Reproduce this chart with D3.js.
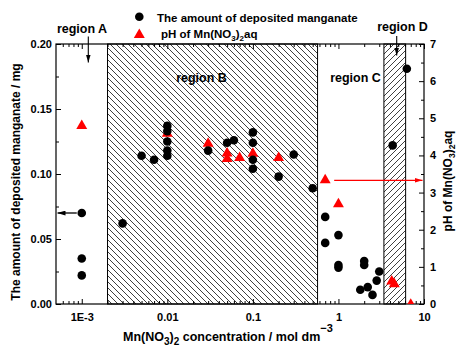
<!DOCTYPE html>
<html>
<head>
<meta charset="utf-8">
<script src="https://cdn.jsdelivr.net/npm/d3@7"></script>
<style>
  body { margin: 0; background: #fff; }
  text { font-family: "Liberation Sans", Arial, Helvetica, sans-serif; font-weight: bold; }
</style>
</head>
<body>
<svg width="457" height="346"></svg>
<script>
// deposited manganate (mg) vs Mn(NO3)2 concentration (mol dm-3)
var mnConc   = [0.001, 0.001, 0.001, 0.003, 0.005, 0.007, 0.01, 0.01, 0.01, 0.01, 0.01,
                0.03, 0.05, 0.06, 0.1, 0.1, 0.1, 0.1, 0.2, 0.3, 0.5,
                0.7, 0.7, 1, 1, 1, 1.8, 2, 2, 2.2, 2.5, 2.8, 3, 4.3, 6.3];
var mnAmount = [0.070, 0.035, 0.022, 0.062, 0.114, 0.111, 0.137, 0.133, 0.125, 0.118, 0.114,
                0.118, 0.124, 0.126, 0.132, 0.124, 0.111, 0.104, 0.098, 0.115, 0.089,
                0.067, 0.047, 0.053, 0.030, 0.028, 0.011, 0.033, 0.030, 0.013, 0.007, 0.018, 0.025, 0.122, 0.181];

// pH of the Mn(NO3)2 solution
var phConc  = [0.001, 0.01, 0.03, 0.05, 0.05, 0.07, 0.1, 0.2, 0.7, 1, 4.2, 4.5, 7];
var phValue = [4.84, 4.63, 4.36, 4.10, 3.95, 3.98, 4.09, 3.98, 3.38, 2.73, 0.65, 0.58, 0.03];

// hatched concentration ranges
var regionB = [0.002, 0.57];
var regionD = [3.4, 6.1];

var xTicks = [0.001, 0.01, 0.1, 1, 10];
var xTickLabels = ["1E-3", "0.01", "0.1", "1", "10"];
var yTicks = [0, 0.05, 0.10, 0.15, 0.20];
var phTicks = [0, 1, 2, 3, 4, 5, 6, 7];

var svg = d3.select("svg");
var pL = 56, pR = 424, pT = 44, pB = 304;

var x = d3.scaleLog().domain([5e-4, 10]).range([pL, pR]);
var y = d3.scaleLinear().domain([0, 0.2]).range([pB, pT]);
var yPh = d3.scaleLinear().domain([0, 7]).range([pB, pT]);

var defs = svg.append("defs");
defs.append("pattern")
    .attr("id", "hatchB")
    .attr("patternUnits", "userSpaceOnUse")
    .attr("width", 6).attr("height", 6)
  .append("path")
    .attr("d", "M-1,-1L7,7M-1,5L1,7M5,-1L7,1")
    .attr("stroke", "#000").attr("stroke-width", 0.75);
defs.append("pattern")
    .attr("id", "hatchD")
    .attr("patternUnits", "userSpaceOnUse")
    .attr("width", 6).attr("height", 6)
  .append("path")
    .attr("d", "M-1,7L7,-1M-1,1L1,-1M5,7L7,5")
    .attr("stroke", "#000").attr("stroke-width", 0.75);
defs.append("clipPath").attr("id", "plotClip")
  .append("rect")
    .attr("x", pL).attr("y", pT)
    .attr("width", pR - pL).attr("height", pB - pT);

function arrowHead(id, col) {
  defs.append("marker")
      .attr("id", id)
      .attr("viewBox", "0 0 10 6")
      .attr("refX", 10).attr("refY", 3)
      .attr("markerWidth", 8).attr("markerHeight", 5)
      .attr("markerUnits", "userSpaceOnUse")
      .attr("orient", "auto")
    .append("path")
      .attr("d", "M0,0L10,3L0,6Z")
      .attr("fill", col);
}
arrowHead("ahBlack", "#000");
arrowHead("ahRed", "#ff0000");

// hatched regions
svg.append("g")
    .selectAll("rect")
    .data([[regionB, "url(#hatchB)"], [regionD, "url(#hatchD)"]])
    .enter().append("rect")
    .attr("x", d => x(d[0][0]))
    .attr("y", pT)
    .attr("width", d => x(d[0][1]) - x(d[0][0]))
    .attr("height", pB - pT)
    .attr("fill", d => d[1])
    .attr("stroke", "#000")
    .attr("stroke-width", 1);

// frame
svg.append("rect")
    .attr("x", pL).attr("y", pT)
    .attr("width", pR - pL).attr("height", pB - pT)
    .attr("fill", "none").attr("stroke", "#000").attr("stroke-width", 1.2);

// axes (ticks inside)
var xMinor = [];
for (var e = -4; e < 1; e++) {
  for (var m = 2; m <= 9; m++) {
    var v = m * Math.pow(10, e);
    if (v > 5e-4 && v < 10) xMinor.push(v);
  }
}

svg.append("g")
    .attr("transform", "translate(0," + pB + ")")
    .call(d3.axisBottom(x).tickValues(xTicks).tickFormat((d, i) => xTickLabels[i])
      .tickSizeInner(-5).tickSizeOuter(0).tickPadding(9));
svg.append("g")
    .attr("transform", "translate(0," + pB + ")")
    .call(d3.axisBottom(x).tickValues(xMinor).tickFormat("").tickSizeInner(-3).tickSizeOuter(0));
svg.append("g")
    .attr("transform", "translate(0," + pT + ")")
    .call(d3.axisTop(x).tickValues(xTicks).tickFormat("").tickSizeInner(-5).tickSizeOuter(0));
svg.append("g")
    .attr("transform", "translate(0," + pT + ")")
    .call(d3.axisTop(x).tickValues(xMinor).tickFormat("").tickSizeInner(-3).tickSizeOuter(0));

svg.append("g")
    .attr("transform", "translate(" + pL + ",0)")
    .call(d3.axisLeft(y).tickValues(yTicks).tickFormat(d3.format(".2f"))
      .tickSizeInner(-5).tickSizeOuter(0).tickPadding(4));
svg.append("g")
    .attr("transform", "translate(" + pL + ",0)")
    .call(d3.axisLeft(y).tickValues([0.025, 0.075, 0.125, 0.175]).tickFormat("")
      .tickSizeInner(-3).tickSizeOuter(0));

svg.append("g")
    .attr("transform", "translate(" + pR + ",0)")
    .call(d3.axisRight(yPh).tickValues(phTicks).tickFormat(d3.format("d"))
      .tickSizeInner(-5).tickSizeOuter(0).tickPadding(6));
svg.append("g")
    .attr("transform", "translate(" + pR + ",0)")
    .call(d3.axisRight(yPh).tickValues([0.5, 1.5, 2.5, 3.5, 4.5, 5.5, 6.5]).tickFormat("")
      .tickSizeInner(-3).tickSizeOuter(0));

svg.selectAll(".domain").remove();
svg.selectAll(".tick line").attr("stroke", "#000").attr("stroke-width", 1);
svg.selectAll(".tick text")
    .attr("fill", "#000")
    .style("font-size", "11px")
    .style("font-family", "'Liberation Sans', Arial, sans-serif")
    .style("font-weight", "bold");

// markers
var tri = {
  draw: function (p, s) {
    var w = Math.sqrt(s * 4 / Math.sqrt(3)), h = w * Math.sqrt(3) / 2;
    p.moveTo(0, -h / 2); p.lineTo(w / 2, h / 2); p.lineTo(-w / 2, h / 2); p.closePath();
  }
};

svg.append("g")
    .attr("clip-path", "url(#plotClip)")
    .selectAll("path")
    .data(d3.range(phConc.length))
    .enter().append("path")
    .attr("transform", i => "translate(" + x(phConc[i]) + "," + yPh(phValue[i]) + ")")
    .attr("d", d3.symbol().type(tri).size(52))
    .attr("fill", "#ff0000");

svg.append("g")
    .selectAll("circle")
    .data(d3.range(mnConc.length))
    .enter().append("circle")
    .attr("cx", i => x(mnConc[i]))
    .attr("cy", i => y(mnAmount[i]))
    .attr("r", 4.3)
    .attr("fill", "#000");

// arrows
svg.append("line")
    .attr("x1", x(mnConc[0]) - 5).attr("y1", y(mnAmount[0]))
    .attr("x2", pL + 1.5).attr("y2", y(mnAmount[0]))
    .attr("stroke", "#000").attr("stroke-width", 1.3)
    .attr("marker-end", "url(#ahBlack)");
svg.append("line")
    .attr("x1", x(phConc[8]) + 9).attr("y1", yPh(3.33))
    .attr("x2", pR - 1.5).attr("y2", yPh(3.33))
    .attr("stroke", "#ff0000").attr("stroke-width", 1.3)
    .attr("marker-end", "url(#ahRed)");
svg.append("line")
    .attr("x1", 88.3).attr("y1", 36.5).attr("x2", 88.3).attr("y2", 62.5)
    .attr("stroke", "#000").attr("stroke-width", 1.1)
    .attr("marker-end", "url(#ahBlack)");
svg.append("line")
    .attr("x1", 396.7).attr("y1", 36).attr("x2", 396.7).attr("y2", 55.5)
    .attr("stroke", "#000").attr("stroke-width", 1.1)
    .attr("marker-end", "url(#ahBlack)");

// region labels
var regionLabels = [["region A", 82, 33.3], ["region B", 201.5, 81.5],
                    ["region C", 355.5, 81.5], ["region D", 402.5, 31]];
svg.append("g")
    .selectAll("text")
    .data(regionLabels)
    .enter().append("text")
    .attr("x", d => d[1]).attr("y", d => d[2])
    .attr("text-anchor", "middle")
    .style("font-size", "12.5px")
    .text(d => d[0]);

// legend
svg.append("circle").attr("cx", 139.3).attr("cy", 16.7).attr("r", 4.3).attr("fill", "#000");
svg.append("path")
    .attr("transform", "translate(139.3,33.3)")
    .attr("d", d3.symbol().type(tri).size(52))
    .attr("fill", "#ff0000");
svg.append("text").attr("x", 157).attr("y", 22).style("font-size", "11.5px")
    .text("The amount of deposited manganate");

function mnNitrate(sel, subSize, shift) {
  sel.append("tspan").text("Mn(NO");
  sel.append("tspan").attr("dy", shift).style("font-size", subSize).text("3");
  sel.append("tspan").attr("dy", -shift).text(")");
  sel.append("tspan").attr("dy", shift).style("font-size", subSize).text("2");
}

var leg2 = svg.append("text").attr("x", 161).attr("y", 38).style("font-size", "11.5px");
leg2.append("tspan").text("pH of ");
mnNitrate(leg2, "8px", 3);
leg2.append("tspan").attr("dy", -3).text("aq");

// axis titles
svg.append("text")
    .attr("transform", "translate(20,182) rotate(-90)")
    .attr("text-anchor", "middle")
    .style("font-size", "12px")
    .text("The amount of deposited manganate / mg");

var rt = svg.append("text")
    .attr("transform", "translate(452,181) rotate(-90)")
    .attr("text-anchor", "middle")
    .style("font-size", "12px");
rt.append("tspan").text("pH of ");
mnNitrate(rt, "8.5px", 3);
rt.append("tspan").attr("dy", -3).text("aq");

var xt = svg.append("text").attr("x", 123).attr("y", 341).style("font-size", "12.5px");
mnNitrate(xt, "10px", 4);
xt.append("tspan").attr("dy", -4).text(" concentration / mol dm");
xt.append("tspan").attr("dy", -9).style("font-size", "11px").text("\u22123");
</script>
</body>
</html>
